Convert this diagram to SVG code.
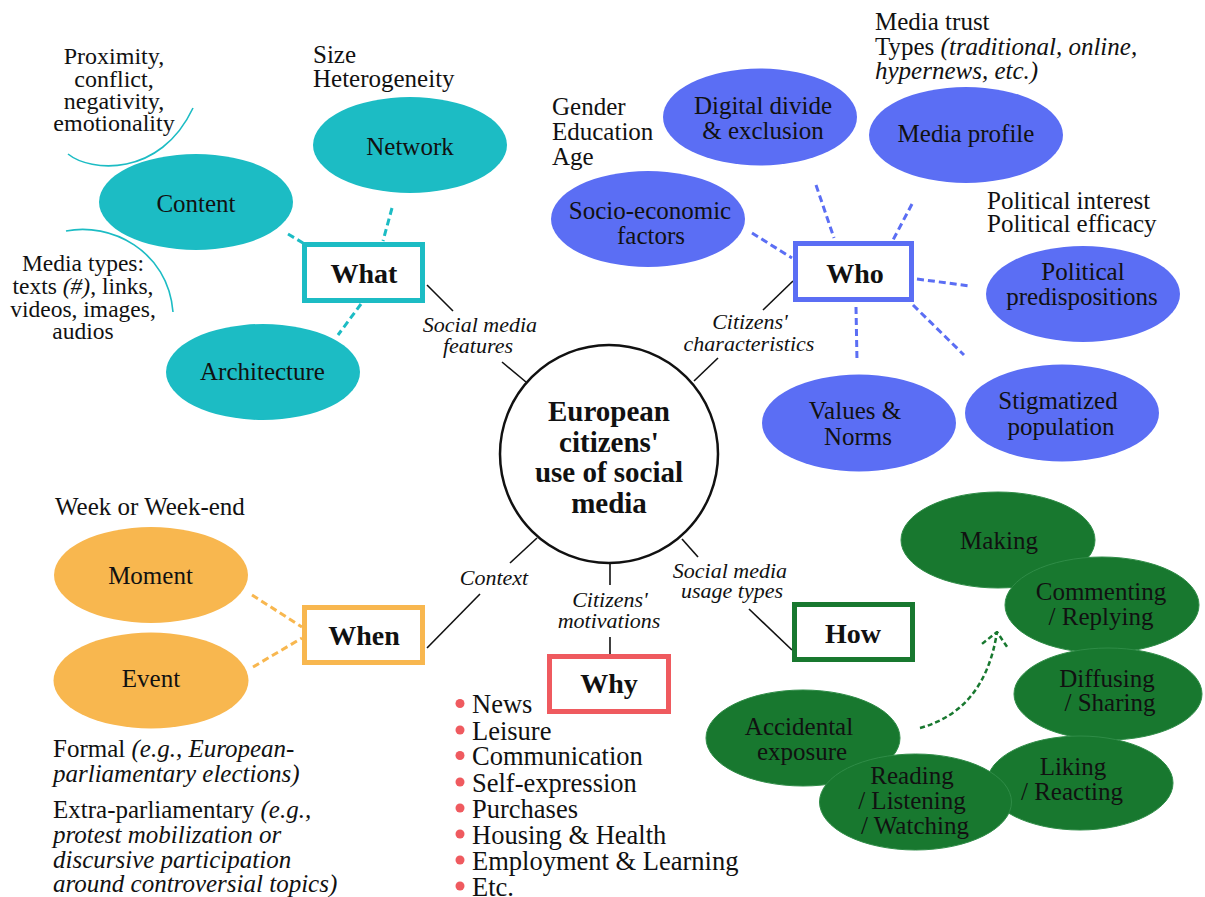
<svg xmlns="http://www.w3.org/2000/svg" width="1205" height="897" viewBox="0 0 1205 897">
<defs>
<style>
text { font-family: "Liberation Serif", "Times New Roman", serif; fill: #111; }
.lab { font-size: 25px; text-anchor: middle; }
.note { font-size: 25px; }
.note24 { font-size: 24px; text-anchor: middle; }
.note23 { font-size: 23.5px; text-anchor: middle; }
.it { font-style: italic; }
.conn { font-size: 22px; font-style: italic; text-anchor: middle; }
.boxt { font-size: 28px; font-weight: bold; text-anchor: middle; }
.ctr { font-size: 29px; font-weight: bold; text-anchor: middle; }
.why { font-size: 26.5px; }
.cy { fill: #1cbcc4; }
.bl { fill: #5b6ef4; }
.or { fill: #f8b74f; }
.gr { fill: #18782f; stroke: #2f8c47; stroke-width: 1; }
.box { fill: #fff; stroke-width: 5; }
.line { stroke: #111; stroke-width: 1.6; fill: none; }
.dash { stroke-width: 3; stroke-dasharray: 7 4; fill: none; }
.arc { stroke: #1cbcc4; stroke-width: 1.6; fill: none; }
.dot { fill: #ef5a5f; }
</style>
<marker id="arr" viewBox="0 0 16 28" refX="15" refY="14" markerWidth="16" markerHeight="28" markerUnits="userSpaceOnUse" orient="auto">
<path d="M1,1 L15,14 L1,27" fill="none" stroke="#18782f" stroke-width="2.5" stroke-dasharray="5 3"/>
</marker>
</defs>
<rect width="1205" height="897" fill="#fff"/>

<g id="connectors">
<line class="line" x1="427" y1="285" x2="453" y2="311"/>
<line class="line" x1="502" y1="362" x2="526" y2="382"/>
<line class="line" x1="793" y1="281" x2="763" y2="310"/>
<line class="line" x1="694" y1="381" x2="718" y2="358"/>
<line class="line" x1="427" y1="648" x2="480" y2="594"/>
<line class="line" x1="510" y1="563" x2="537" y2="538"/>
<line class="line" x1="610" y1="563" x2="610" y2="585"/>
<line class="line" x1="610" y1="637" x2="610" y2="654"/>
<line class="line" x1="682" y1="539" x2="698" y2="557"/>
<line class="line" x1="749" y1="609" x2="792" y2="650"/>
<g stroke="#1cbcc4">
<line class="dash" x1="288" y1="234" x2="303" y2="243"/>
<line class="dash" x1="392" y1="208" x2="383" y2="241"/>
<line class="dash" x1="361" y1="304" x2="338" y2="335"/>
</g>
<g stroke="#5b6ef4">
<line class="dash" x1="752" y1="233" x2="792" y2="258"/>
<line class="dash" x1="816" y1="185" x2="834" y2="238"/>
<line class="dash" x1="912" y1="204" x2="893" y2="240"/>
<line class="dash" x1="917" y1="279" x2="970" y2="286"/>
<line class="dash" x1="856" y1="307" x2="857" y2="361"/>
<line class="dash" x1="913" y1="305" x2="964" y2="355"/>
</g>
<g stroke="#f8b74f">
<line class="dash" x1="252" y1="595" x2="302" y2="627"/>
<line class="dash" x1="253" y1="667" x2="302" y2="638"/>
</g>
<path class="arc" d="M68,154 C90,172 160,178 193,108"/>
<path class="arc" d="M66,231 C110,222 168,250 173,312"/>
</g>

<g id="center">
<circle cx="609" cy="454" r="109" fill="#fff" stroke="#111" stroke-width="2.5"/>
<text class="ctr" x="609" y="421">European</text>
<text class="ctr" x="609" y="452">citizens'</text>
<text class="ctr" x="609" y="482">use of social</text>
<text class="ctr" x="609" y="513">media</text>
</g>

<g id="connector-labels">
<text class="conn" x="480" y="332">Social media</text>
<text class="conn" x="478" y="353">features</text>
<text class="conn" x="750" y="329">Citizens'</text>
<text class="conn" x="749" y="351">characteristics</text>
<text class="conn" x="494" y="585">Context</text>
<text class="conn" x="610" y="607">Citizens'</text>
<text class="conn" x="609" y="628">motivations</text>
<text class="conn" x="730" y="578">Social media</text>
<text class="conn" x="732" y="598">usage types</text>
</g>

<g id="what">
<rect class="box" x="304.5" y="244.5" width="118" height="56" stroke="#1cbcc4"/>
<text class="boxt" x="364" y="283">What</text>
</g>
<g id="content">
<ellipse class="cy" cx="196" cy="202" rx="97" ry="48"/>
<text class="lab" x="196" y="212">Content</text>
</g>
<g id="network">
<ellipse class="cy" cx="410" cy="145" rx="97" ry="48"/>
<text class="lab" x="410" y="155">Network</text>
</g>
<g id="architecture">
<ellipse class="cy" cx="263" cy="372" rx="97" ry="48"/>
<text class="lab" x="262.5" y="380">Architecture</text>
</g>
<g id="what-notes">
<text class="note24" x="114" y="64">Proximity,</text>
<text class="note24" x="114" y="87">conflict,</text>
<text class="note24" x="114" y="108.5">negativity,</text>
<text class="note24" x="114" y="130.5">emotionality</text>
<text class="note" x="313" y="63">Size</text>
<text class="note" x="313" y="87">Heterogeneity</text>
<text class="note23" x="83" y="271">Media types:</text>
<text class="note23" x="83" y="293.5">texts <tspan class="it">(#)</tspan>, links,</text>
<text class="note23" x="83" y="316.5">videos, images,</text>
<text class="note23" x="83" y="338.5">audios</text>
</g>

<g id="who">
<rect class="box" x="795.5" y="243.5" width="116" height="56" stroke="#5b6ef4"/>
<text class="boxt" x="855" y="283">Who</text>
</g>
<g id="digital-divide">
<ellipse class="bl" cx="760" cy="117" rx="97" ry="48.5"/>
<text class="lab" x="763" y="113.5">Digital divide</text>
<text class="lab" x="763" y="138.5">&amp; exclusion</text>
</g>
<g id="media-profile">
<ellipse class="bl" cx="966" cy="135" rx="97" ry="48"/>
<text class="lab" x="966" y="142">Media profile</text>
</g>
<g id="socio-economic">
<ellipse class="bl" cx="648" cy="219" rx="97" ry="48"/>
<text class="lab" x="650" y="218.5">Socio-economic</text>
<text class="lab" x="651" y="243.5">factors</text>
</g>
<g id="political">
<ellipse class="bl" cx="1083" cy="294" rx="97" ry="48"/>
<text class="lab" x="1083" y="280">Political</text>
<text class="lab" x="1082" y="305">predispositions</text>
</g>
<g id="values">
<ellipse class="bl" cx="859" cy="423" rx="97" ry="48.5"/>
<text class="lab" x="855" y="418.5">Values &amp;</text>
<text class="lab" x="858" y="445">Norms</text>
</g>
<g id="stigmatized">
<ellipse class="bl" cx="1062" cy="413" rx="97" ry="48.5"/>
<text class="lab" x="1058" y="408.5">Stigmatized</text>
<text class="lab" x="1061" y="435">population</text>
</g>
<g id="who-notes">
<text class="note" x="552" y="115">Gender</text>
<text class="note" x="552" y="140">Education</text>
<text class="note" x="552" y="164.5">Age</text>
<text class="note" x="875" y="30">Media trust</text>
<text class="note" x="875" y="55">Types <tspan class="it">(traditional, online,</tspan></text>
<text class="note it" x="875" y="78.5">hypernews, etc.)</text>
<text class="note" x="987" y="208.5">Political interest</text>
<text class="note" x="987" y="232">Political efficacy</text>
</g>

<g id="when">
<rect class="box" x="304.5" y="607.5" width="118" height="55" stroke="#f8b74f"/>
<text class="boxt" x="364" y="645">When</text>
</g>
<g id="moment">
<ellipse class="or" cx="151" cy="575" rx="97" ry="48"/>
<text class="lab" x="150.5" y="583.5">Moment</text>
</g>
<g id="event">
<ellipse class="or" cx="151" cy="680.5" rx="97.5" ry="48"/>
<text class="lab" x="151" y="687">Event</text>
</g>
<g id="when-notes">
<text class="note" x="55" y="515">Week or Week-end</text>
<text class="note" x="53" y="757">Formal <tspan class="it">(e.g., European-</tspan></text>
<text class="note it" x="53" y="782">parliamentary elections)</text>
<text class="note" x="53" y="818">Extra-parliamentary <tspan class="it">(e.g.,</tspan></text>
<text class="note it" x="53" y="843">protest mobilization or</text>
<text class="note it" x="53" y="868">discursive participation</text>
<text class="note it" x="53" y="892">around controversial topics)</text>
</g>

<g id="why">
<rect class="box" x="549.5" y="656.5" width="119" height="55" stroke="#ef5a5f"/>
<text class="boxt" x="609" y="693">Why</text>
</g>
<g id="why-list">
<circle class="dot" cx="460" cy="703.5" r="4.5"/>
<circle class="dot" cx="460" cy="730" r="4.5"/>
<circle class="dot" cx="460" cy="755.5" r="4.5"/>
<circle class="dot" cx="460" cy="782" r="4.5"/>
<circle class="dot" cx="460" cy="808" r="4.5"/>
<circle class="dot" cx="460" cy="834" r="4.5"/>
<circle class="dot" cx="460" cy="860" r="4.5"/>
<circle class="dot" cx="460" cy="886" r="4.5"/>
<text class="why" x="472" y="713">News</text>
<text class="why" x="472" y="739.5">Leisure</text>
<text class="why" x="472" y="765">Communication</text>
<text class="why" x="472" y="791.5">Self-expression</text>
<text class="why" x="472" y="817.5">Purchases</text>
<text class="why" x="472" y="843.5">Housing &amp; Health</text>
<text class="why" x="472" y="869.5">Employment &amp; Learning</text>
<text class="why" x="472" y="895.5">Etc.</text>
</g>

<g id="how">
<rect class="box" x="794.5" y="604.5" width="118" height="55" stroke="#18782f"/>
<text class="boxt" x="853" y="643">How</text>
</g>
<g id="making">
<ellipse class="gr" cx="998" cy="540" rx="97" ry="48"/>
<text class="lab" x="999" y="548.5">Making</text>
</g>
<g id="commenting">
<ellipse class="gr" cx="1102" cy="605" rx="97" ry="48"/>
<text class="lab" x="1101" y="600">Commenting</text>
<text class="lab" x="1101" y="625">/ Replying</text>
</g>
<g id="diffusing">
<ellipse class="gr" cx="1108" cy="694" rx="94" ry="46"/>
<text class="lab" x="1107" y="687">Diffusing</text>
<text class="lab" x="1110" y="711">/ Sharing</text>
</g>
<g id="liking">
<ellipse class="gr" cx="1080" cy="783" rx="93" ry="47"/>
<text class="lab" x="1073" y="775">Liking</text>
<text class="lab" x="1072" y="800">/ Reacting</text>
</g>
<g id="accidental">
<ellipse class="gr" cx="803" cy="738" rx="97" ry="48"/>
<text class="lab" x="799" y="735">Accidental</text>
<text class="lab" x="802" y="760">exposure</text>
</g>
<g id="reading">
<ellipse class="gr" cx="915.5" cy="802" rx="96" ry="48"/>
<text class="lab" x="912" y="783.5">Reading</text>
<text class="lab" x="912" y="808.5">/ Listening</text>
<text class="lab" x="915" y="833.5">/ Watching</text>
</g>
<g id="how-arrow">
<path d="M920,728 Q985,710 997,632" fill="none" stroke="#18782f" stroke-width="2.5" stroke-dasharray="5 3" marker-end="url(#arr)"/>
</g>
</svg>
